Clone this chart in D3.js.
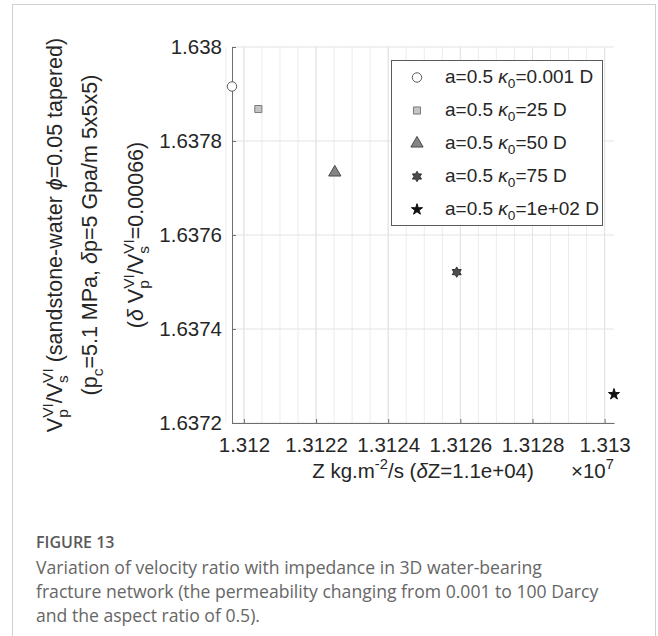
<!DOCTYPE html>
<html>
<head>
<meta charset="utf-8">
<script src="https://cdn.jsdelivr.net/npm/d3@7"></script>
<style>
  body { margin: 0; background: #fff; }
  svg text { white-space: pre; }
</style>
</head>
<body>
<div id="chart"></div>
<script>
// data (Z in units of 1e7)
var kappa = ['0.001', '25', '50', '75', '1e+02'];
var zVals = [1.311967, 1.312040, 1.312252, 1.312590, 1.313026];
var ratio = [1.637916, 1.637868, 1.637733, 1.637521, 1.637261];
var xTicks = [1.312, 1.3122, 1.3124, 1.3126, 1.3128, 1.313];
var yTicks = [1.6372, 1.6374, 1.6376, 1.6378, 1.638];
var captionLines = [
    'Variation of velocity ratio with impedance in 3D water-bearing',
    'fracture network (the permeability changing from 0.001 to 100 Darcy',
    'and the aspect ratio of 0.5).'
];

var W = 658, H = 636;
var plot = { left: 232, right: 614, top: 47, bottom: 423 };
var FONT = '"Liberation Sans", Arial, Helvetica, sans-serif';
var INK = '#262626';

var svg = d3.select('#chart').append('svg')
    .attr('width', W)
    .attr('height', H);

// frame around figure + caption
svg.append('rect')
    .attr('x', 12.5).attr('y', 4.5)
    .attr('width', 643).attr('height', 640)
    .attr('fill', 'none')
    .attr('stroke', '#d0d0d0');

var x = d3.scaleLinear().domain(d3.extent(zVals)).range([plot.left, plot.right]);
var y = d3.scaleLinear().domain([1.6372, 1.638]).range([plot.bottom, plot.top]);

// minor vertical grid
var minor = d3.range(xTicks[0] - 0.00005, x.domain()[1], 0.00005);
svg.append('g').selectAll('line').data(minor).enter().append('line')
    .attr('x1', function(d) { return x(d); })
    .attr('x2', function(d) { return x(d); })
    .attr('y1', plot.top).attr('y2', plot.bottom)
    .attr('stroke', '#ececec').attr('stroke-width', 1);

// major grid
svg.append('g').selectAll('line').data(xTicks).enter().append('line')
    .attr('x1', function(d) { return x(d); })
    .attr('x2', function(d) { return x(d); })
    .attr('y1', plot.top).attr('y2', plot.bottom)
    .attr('stroke', '#e3e3e3');
svg.append('g').selectAll('line').data(yTicks).enter().append('line')
    .attr('x1', plot.left).attr('x2', plot.right)
    .attr('y1', function(d) { return y(d); })
    .attr('y2', function(d) { return y(d); })
    .attr('stroke', '#e3e3e3');

// axes
var xAxis = d3.axisBottom(x).tickValues(xTicks).tickSizeInner(-4).tickSizeOuter(0)
    .tickPadding(14).tickFormat(d3.format('~g'));
var yAxis = d3.axisLeft(y).tickValues(yTicks).tickSizeInner(-4).tickSizeOuter(0)
    .tickPadding(10).tickFormat(d3.format('~g'));

var gx = svg.append('g')
    .attr('transform', 'translate(0,' + plot.bottom + ')')
    .call(xAxis);
var gy = svg.append('g')
    .attr('transform', 'translate(' + plot.left + ',0)')
    .call(yAxis);

[gx, gy].forEach(function(g) {
    g.select('.domain').attr('stroke', '#6e6e6e');
    g.selectAll('.tick line').attr('stroke', '#6e6e6e');
    g.selectAll('.tick text')
        .attr('fill', INK)
        .style('font-family', FONT)
        .style('font-size', '20.5px');
});
gx.selectAll('.tick text').attr('dy', '0.71em');

// rich text helper: segments [text, kind, extra]
function rich(sel, segs, fs) {
    var cur = 0;
    segs.forEach(function(s) {
        var kind = s[1] || 'n';
        if (kind === 'subsup') {
            var a = sel.append('tspan')
                .attr('font-size', fs * 0.72)
                .attr('dy', fs * 0.3 - cur)
                .text(s[0]);
            var w = a.node().getComputedTextLength();
            sel.append('tspan')
                .attr('font-size', fs * 0.72)
                .attr('dx', -w)
                .attr('dy', -fs * 0.42 - fs * 0.3)
                .text(s[2]);
            cur = -fs * 0.42;
            return;
        }
        var off = kind === 'sub' ? fs * 0.3 : kind === 'sup' ? -fs * 0.42 : 0;
        var t = sel.append('tspan').attr('dy', off - cur).text(s[0]);
        if (kind === 'sub' || kind === 'sup') t.attr('font-size', fs * 0.72);
        if (kind === 'i') t.attr('font-style', 'italic');
        cur = off;
    });
}

// y label (three lines, rotated)
var yLines = [
    { pos: 62, segs: [['V'], ['p', 'subsup', 'VI'], ['/V'], ['s', 'subsup', 'VI'],
        [' (sandstone-water '], ['\u03d5', 'i'], ['=0.05 tapered)']] },
    { pos: 97, segs: [['(p'], ['c', 'sub'], ['=5.1 MPa, '], ['\u03b4', 'i'], ['p=5 Gpa/m 5x5x5)']] },
    { pos: 143, segs: [['('], ['\u03b4', 'i'], [' V'], ['p', 'subsup', 'VI'], ['/V'],
        ['s', 'subsup', 'VI'], ['=0.00066)']] }
];
yLines.forEach(function(l) {
    var t = svg.append('text')
        .attr('transform', 'translate(' + l.pos + ',' + ((plot.top + plot.bottom) / 2) + ') rotate(-90)')
        .attr('text-anchor', 'middle')
        .attr('fill', INK)
        .style('font-family', FONT)
        .style('font-size', '21.5px');
    rich(t, l.segs, 21.5);
});

// x label
var xl = svg.append('text')
    .attr('x', (plot.left + plot.right) / 2)
    .attr('y', 478)
    .attr('text-anchor', 'middle')
    .attr('fill', INK)
    .style('font-family', FONT)
    .style('font-size', '20.5px');
rich(xl, [['Z kg.m'], ['-2', 'sup'], ['/s ('], ['\u03b4', 'i'], ['Z=1.1e+04)']], 20.5);

var ex = svg.append('text')
    .attr('x', plot.right)
    .attr('y', 478)
    .attr('text-anchor', 'end')
    .attr('fill', INK)
    .style('font-family', FONT)
    .style('font-size', '20.5px');
rich(ex, [['\u00d710'], ['7', 'sup']], 20.5);

// marker styles
var hexagram = {
    draw: function(ctx, size) {
        var r = Math.sqrt(size) * 0.62, ri = r / Math.sqrt(3);
        for (var i = 0; i < 12; i++) {
            var a = -Math.PI / 2 + i * Math.PI / 6;
            var rr = i % 2 ? ri : r;
            if (i === 0) ctx.moveTo(rr * Math.cos(a), rr * Math.sin(a));
            else ctx.lineTo(rr * Math.cos(a), rr * Math.sin(a));
        }
        ctx.closePath();
    }
};
var styles = [
    { type: d3.symbolCircle, size: 70, fill: '#ffffff', stroke: '#5a5a5a' },
    { type: d3.symbolSquare, size: 50, fill: '#c4c4c4', stroke: '#7a7a7a' },
    { type: d3.symbolTriangle, size: 65, fill: '#858585', stroke: '#4a4a4a' },
    { type: hexagram, size: 70, fill: '#4d4d4d', stroke: '#333333' },
    { type: d3.symbolStar, size: 38, fill: '#111111', stroke: '#111111' }
];

function marker(g, i) {
    var st = styles[i];
    g.append('path')
        .attr('d', d3.symbol().type(st.type).size(st.size)())
        .attr('fill', st.fill)
        .attr('stroke', st.stroke)
        .attr('stroke-width', 1);
}

zVals.forEach(function(z, i) {
    var g = svg.append('g')
        .attr('transform', 'translate(' + x(z) + ',' + y(ratio[i]) + ')');
    marker(g, i);
});

// legend
var lg = { x: 391, y: 60, w: 211, h: 165, row: 33 };
svg.append('rect')
    .attr('x', lg.x + 0.5).attr('y', lg.y + 0.5)
    .attr('width', lg.w).attr('height', lg.h)
    .attr('fill', '#fff')
    .attr('stroke', '#5a5a5a');

kappa.forEach(function(k, i) {
    var cy = lg.y + 17.5 + i * lg.row;
    var g = svg.append('g').attr('transform', 'translate(417,' + cy + ')');
    marker(g, i);
    var t = svg.append('text')
        .attr('x', 445)
        .attr('y', cy + 5)
        .attr('fill', INK)
        .style('font-family', FONT)
        .style('font-size', '19px');
    rich(t, [['a=0.5 '], ['\u03ba', 'i'], ['0', 'sub'], ['=' + k + ' D']], 19);
});

// caption
svg.append('text')
    .attr('x', 36).attr('y', 548)
    .attr('fill', '#595959')
    .style('font-family', '"Open Sans", "Noto Sans", sans-serif')
    .style('font-weight', 600)
    .style('font-size', '16px')
    .text('FIGURE 13');

svg.append('g').selectAll('text').data(captionLines).enter().append('text')
    .attr('x', 36)
    .attr('y', function(d, i) { return 574 + i * 24; })
    .attr('fill', '#666666')
    .style('font-family', '"Open Sans", "Noto Sans", sans-serif')
    .style('font-size', '17.6px')
    .text(function(d) { return d; });
</script>
</body>
</html>
